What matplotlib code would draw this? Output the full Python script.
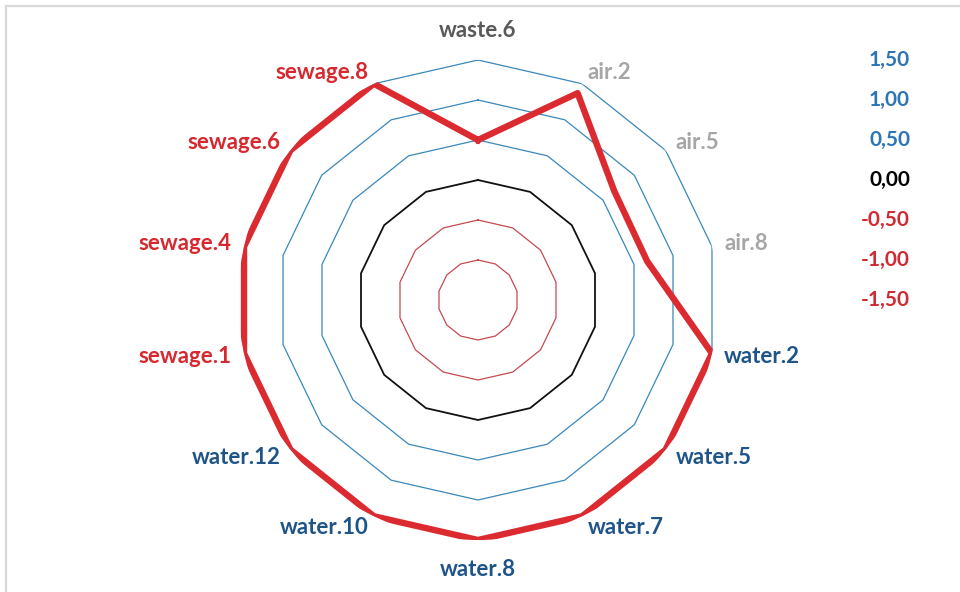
import numpy as np
import matplotlib
matplotlib.use("Agg")
import matplotlib.pyplot as plt
from matplotlib.patches import Rectangle

# data
categories = ["waste.6", "air.2", "air.5", "air.8", "water.2", "water.5", "water.7",
              "water.8", "water.10", "water.12", "sewage.1", "sewage.4", "sewage.6", "sewage.8"]
values = [0.50, 1.37, 0.68, 0.67, 1.50, 1.50, 1.50, 1.50, 1.50, 1.50, 1.50, 1.50, 1.50, 1.50]
ring_levels = [-1.0, -0.5, 0.0, 0.5, 1.0, 1.5]
scale_ticks = [1.5, 1.0, 0.5, 0.0, -0.5, -1.0, -1.5]

group_colors = {"waste": "#595959", "air": "#A6A6A6", "water": "#1F5488", "sewage": "#D6282F"}
line_red = "#DB2A30"

plt.rcParams["font.family"] = ["Lato", "DejaVu Sans"]

fig = plt.figure(figsize=(9.6, 5.92), dpi=100)
fig.patch.set_facecolor("white")

# light gray chart-area frame (only top/left visible in the reference)
fig.add_artist(Rectangle((6 / 960, -0.1), 1.2, 1 - 6 / 592 + 0.1, transform=fig.transFigure,
                         fill=False, edgecolor="#D9D9D9", linewidth=1.6))

cx, cy, rad = 478, 300, 240
ax = fig.add_axes([(cx - rad) / 960, (592 - cy - rad) / 592, 2 * rad / 960, 2 * rad / 592],
                  projection="polar")
ax.set_theta_zero_location("N")
ax.set_theta_direction(-1)
ax.set_ylim(-1.5, 1.5)
ax.grid(False)
ax.spines["polar"].set_visible(False)
ax.set_xticks([])
ax.set_yticks([])
ax.patch.set_alpha(0)

n = len(categories)
theta = np.linspace(0, 2 * np.pi, n, endpoint=False)
theta_c = np.append(theta, theta[0])

# polygon gridlines
for lv in ring_levels:
    if lv > 0:
        col, lw = "#3A87B9", 0.9
    elif lv == 0:
        col, lw = "#111111", 1.3
    else:
        col, lw = "#C44A50", 0.9
    ax.plot(theta_c, [lv] * (n + 1), color=col, linewidth=lw, zorder=1)

# data series
vals_c = values + [values[0]]
ax.plot(theta_c, vals_c, color=line_red, linewidth=4.6, solid_joinstyle="round", zorder=3)

# category labels
for t, name in zip(theta, categories):
    s, c = np.sin(t), np.cos(t)
    if s > 0.1:
        ha = "left"
    elif s < -0.1:
        ha = "right"
    else:
        ha = "center"
    if abs(s) <= 0.1:
        va = "bottom" if c > 0 else "top"
        off = 14
    else:
        va = "center"
        off = 9
    col = group_colors[name.split(".")[0]]
    ax.annotate(name, xy=(t, 1.5), xytext=(off * s, off * c), textcoords="offset points",
                ha=ha, va=va, fontsize=16, fontweight="bold", color=col,
                annotation_clip=False)

# value scale drawn at the right side, aligned with ring radii
fig.canvas.draw()
for v in scale_ticks:
    _, ypix = ax.transData.transform((0, v))
    if v > 0:
        col = "#2E75B6"
    elif v == 0:
        col = "#000000"
    else:
        col = "#D02A33"
    lbl = f"{v:.2f}".replace(".", ",")
    fig.text(910 / 960, ypix / 592, lbl, ha="right", va="center", fontsize=15,
             fontweight="bold", color=col)

fig.savefig("out.png", dpi=100)
